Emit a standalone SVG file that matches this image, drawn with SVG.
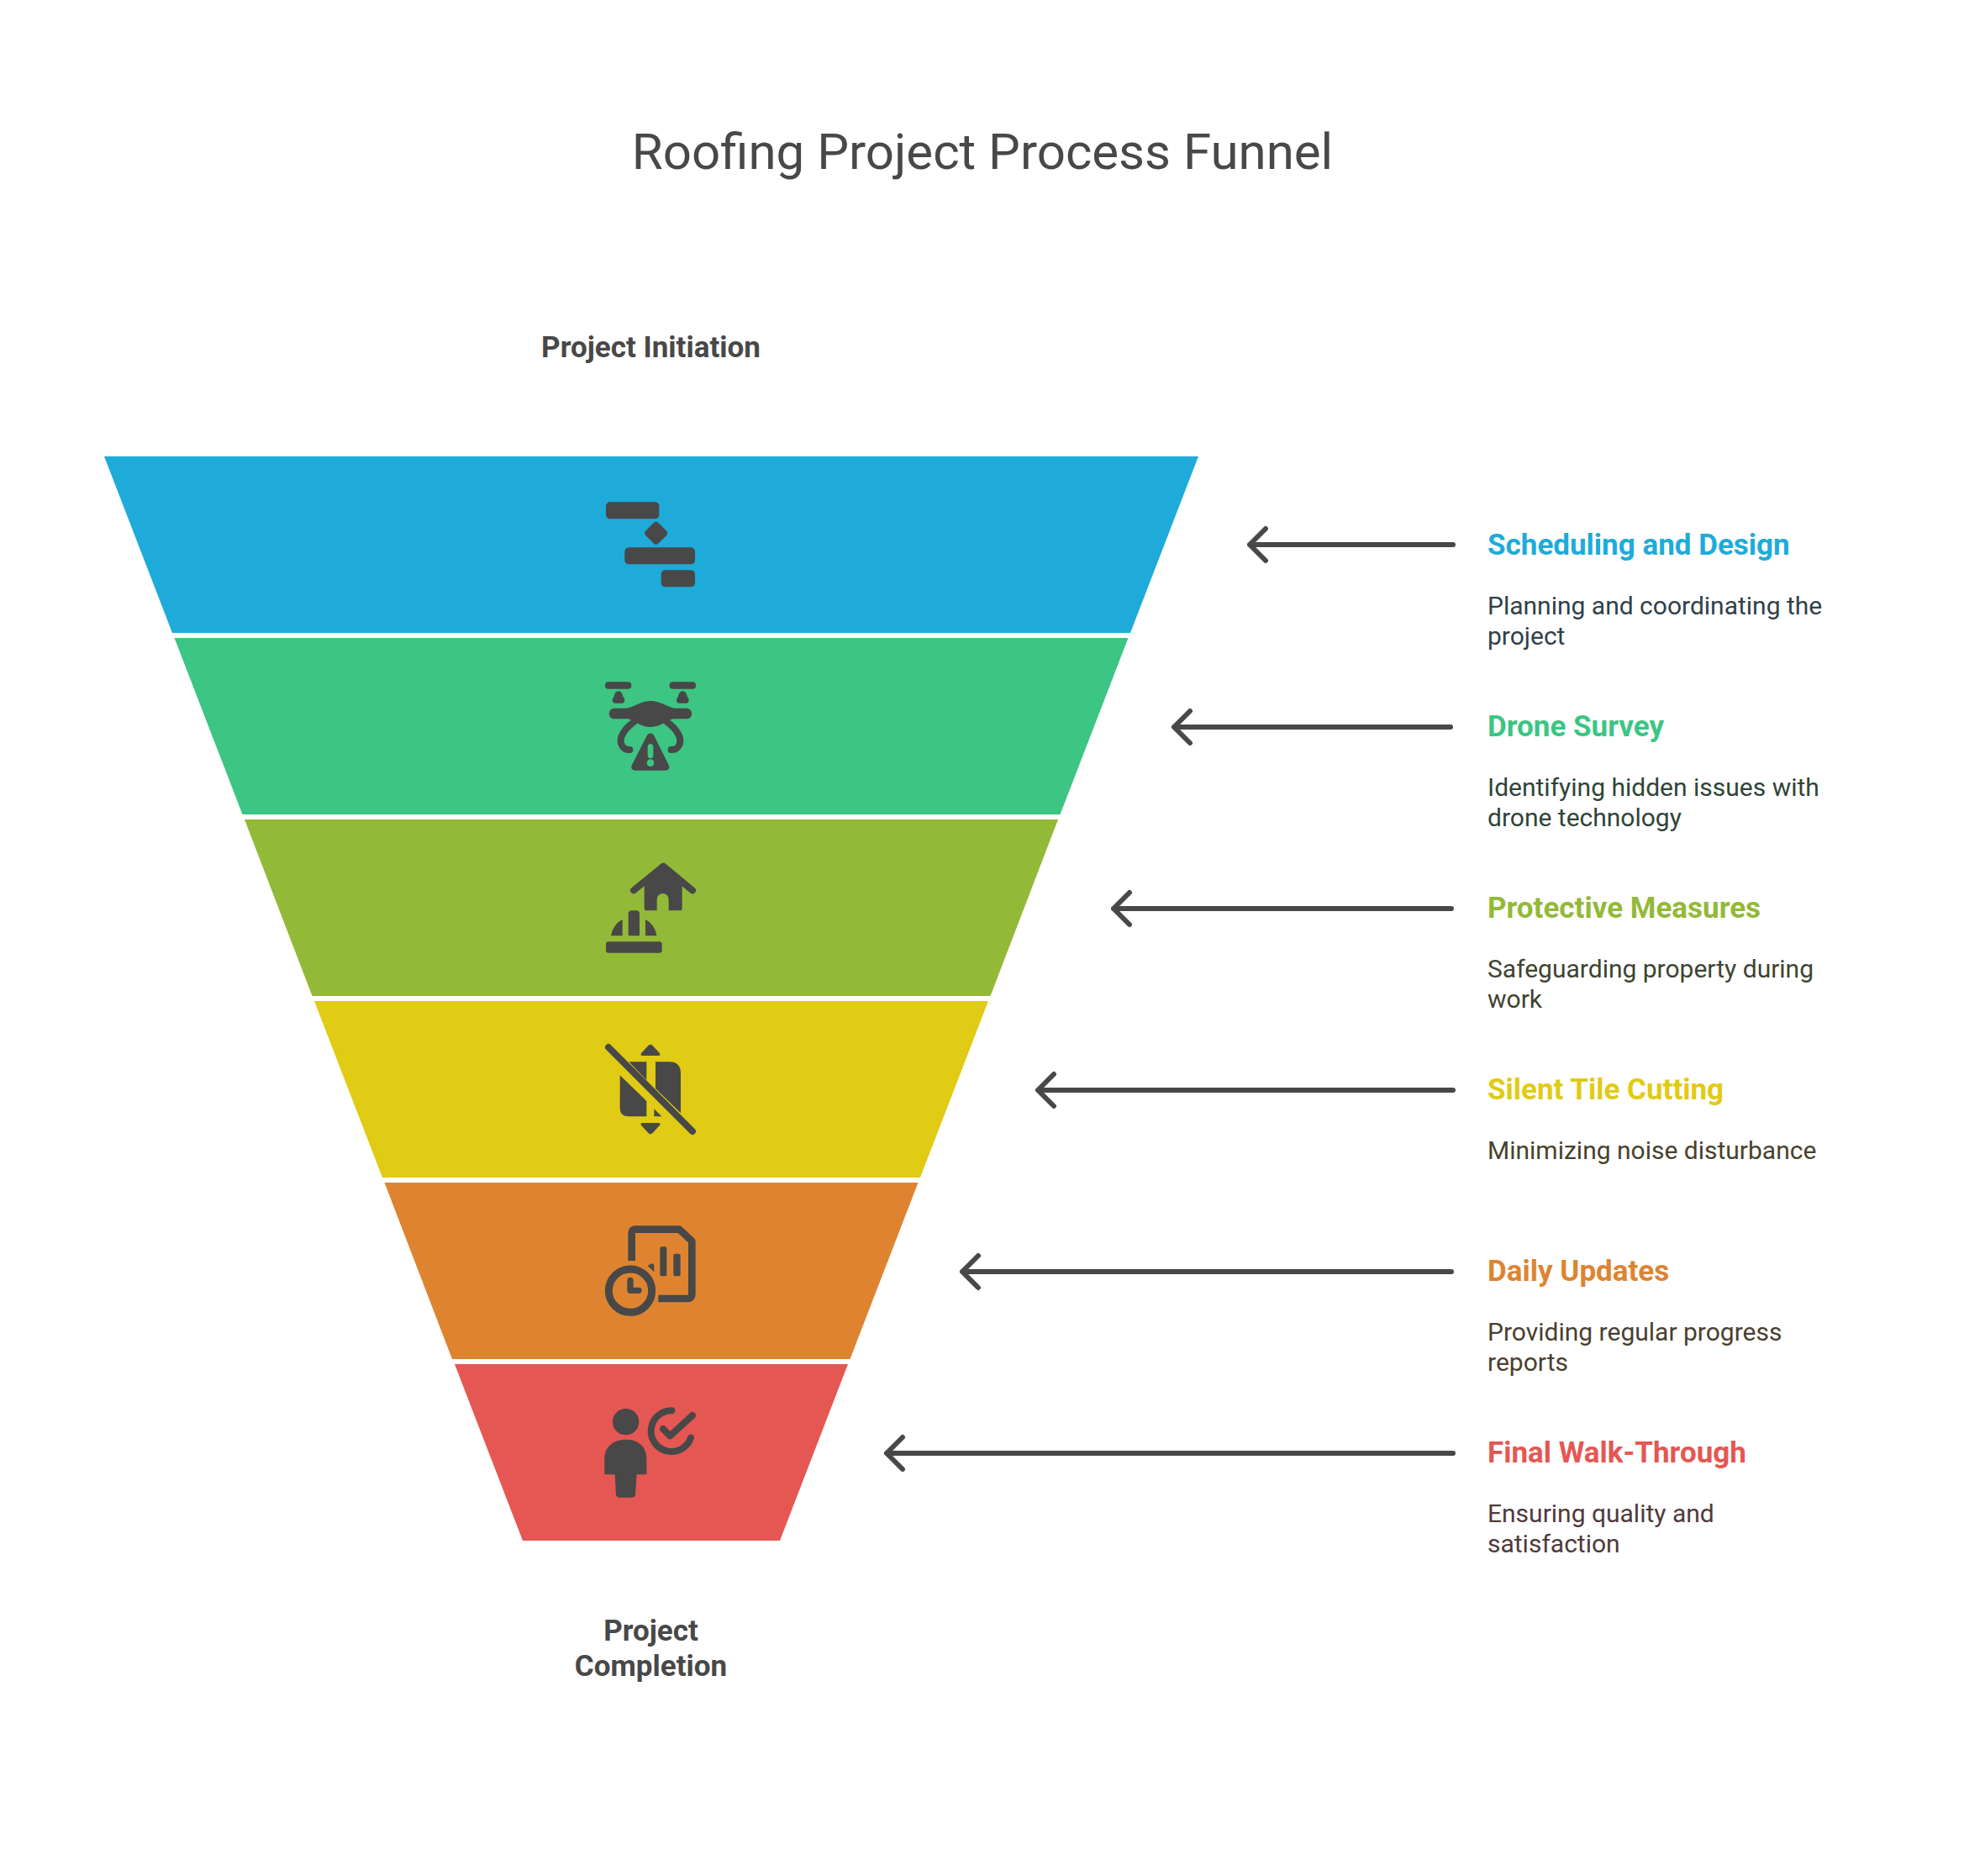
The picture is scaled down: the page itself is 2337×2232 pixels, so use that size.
<svg xmlns="http://www.w3.org/2000/svg" width="2337" height="2232" viewBox="0 0 2337 2232">
<style>
text{font-family:Roboto,"Liberation Sans",sans-serif}
.t{font-size:60px;fill:#484848;text-anchor:middle}
.c{font-size:35px;font-weight:700;fill:#484848;text-anchor:middle}
.h{font-size:35px;font-weight:700}
.d{font-size:30px}
.i{fill:#484848;stroke:none}
.s{fill:none;stroke:#484848;stroke-linecap:round;stroke-linejoin:round}
.a{fill:none;stroke:#484848;stroke-width:6;stroke-linecap:round;stroke-linejoin:round}
</style>
<rect width="2337" height="2232" fill="#fff"/>
<text class="t" x="1169" y="200.500">Roofing Project Process Funnel</text>
<text class="c" x="774.500" y="425">Project Initiation</text>
<text class="c" x="774.500" y="1952">Project</text>
<text class="c" x="774.500" y="1994">Completion</text>
<g id="connectors">
<path class="a" d="M1729 648H1487M1506 629L1487 648L1506 667"/>
<path class="a" d="M1726 865H1397M1416 846L1397 865L1416 884"/>
<path class="a" d="M1727 1081H1325M1344 1062L1325 1081L1344 1100"/>
<path class="a" d="M1729 1297H1235M1254 1278L1235 1297L1254 1316"/>
<path class="a" d="M1727 1513H1145M1164 1494L1145 1513L1164 1532"/>
<path class="a" d="M1729 1729H1055M1074 1710L1055 1729L1074 1748"/>
</g>
<g id="node-scheduling">
<polygon fill="#1eabda" points="124,543 1426,543 1345,753 205,753"/>
<g transform="translate(680 570) scale(.3333)" class="i">
<rect x="123" y="82" width="190" height="60" rx="14"/>
<rect x="270" y="161" width="64" height="64" rx="12" transform="rotate(45 302 193)"/>
<rect x="190" y="244" width="251" height="60" rx="14"/>
<rect x="320" y="325" width="121" height="60" rx="14"/>
</g>
<text class="h" fill="#1eabda" x="1770" y="659.500">Scheduling and Design</text>
<text class="d" fill="#2f4149" x="1770" y="731">Planning and coordinating the</text>
<text class="d" fill="#2f4149" x="1770" y="767">project</text>
</g>
<g id="node-drone">
<polygon fill="#3cc583" points="207.500,759 1342.500,759 1261.500,969 288.500,969"/>
<g transform="translate(680 570) scale(.3333)">
<g class="i">
<rect x="120" y="724" width="94" height="25" rx="12"/>
<rect x="350" y="724" width="94" height="25" rx="12"/>
<path d="M168 757C178 757 183 768 184 776C192 782 193 800 180 800H156C143 800 144 782 152 776C153 768 158 757 168 757Z"/>
<path d="M397 757C407 757 412 768 413 776C421 782 422 800 409 800H385C372 800 373 782 381 776C382 768 387 757 397 757Z"/>
<path d="M153 818H195C225 814 245 792 282 792C320 792 340 814 370 818H411C436 818 436 856 411 856H365C345 858 320 885 282 885C245 885 220 858 200 856H153C128 856 128 818 153 818Z"/>
<path fill-rule="evenodd" d="M270 914C276 905 288 905 294 914L347 1020C353 1032 347 1040 335 1040H228C216 1040 210 1032 216 1020ZM272 956V988C272 1000 292 1000 292 988V956C292 941 272 941 272 956ZM282 1000A13 13 0 1 0 282 1026A13 13 0 1 0 282 1000Z"/>
</g>
<path class="s" stroke-width="24" d="M208 966C175 968 168 930 186 905C195 890 208 878 222 868M356 966C389 968 396 930 378 905C369 890 356 878 342 868"/>
</g>
<text class="h" fill="#3cc583" x="1770" y="875.500">Drone Survey</text>
<text class="d" fill="#2f4438" x="1770" y="947">Identifying hidden issues with</text>
<text class="d" fill="#2f4438" x="1770" y="983">drone technology</text>
</g>
<g id="node-protective">
<polygon fill="#93b938" points="291,975 1259,975 1178.500,1185 371.500,1185"/>
<g transform="translate(680 990) scale(.3333)">
<path class="s" stroke-width="24" d="M222 208L328 122L432 208"/>
<g class="i">
<path d="M260 190L328 130L395 190V272Q395 280 387 280H347V240A21 21 0 0 0 305 240V280H268Q260 280 260 272Z"/>
<rect x="123" y="391" width="200" height="40" rx="9"/>
<path d="M203 370V292Q203 280 215 280H231Q243 280 243 292V370Z"/>
<path d="M182 312V370H141C146 342 162 322 182 312Z"/>
<path d="M264 312V370H304C300 342 284 322 264 312Z"/>
</g>
</g>
<text class="h" fill="#93b938" x="1770" y="1091.500">Protective Measures</text>
<text class="d" fill="#3d4430" x="1770" y="1163">Safeguarding property during</text>
<text class="d" fill="#3d4430" x="1770" y="1199">work</text>
</g>
<g id="node-silent">
<polygon fill="#e0cb15" points="374,1191 1176,1191 1095,1401 455,1401"/>
<g transform="translate(680 990) scale(.3333)">
<path class="s" stroke-width="24" d="M132 768L432 1068"/>
<g class="i">
<path d="M250 788L275 761Q282 755 289 761L314 788Q320 798 310 798H254Q244 798 250 788Z"/>
<path d="M250 1048L275 1075Q282 1081 289 1075L314 1048Q320 1038 310 1038H254Q244 1038 250 1048Z"/>
<path d="M300 820H350Q390 820 390 860V1003L300 915Z"/>
<path d="M205 820H268V885Z"/>
<path d="M173 868L268 960V1015H205Q173 1015 173 985Z"/>
<path d="M295 988L322 1015H295Z"/>
</g>
</g>
<text class="h" fill="#e0cb15" x="1770" y="1307.500">Silent Tile Cutting</text>
<text class="d" fill="#46432a" x="1770" y="1379">Minimizing noise disturbance</text>
</g>
<g id="node-daily">
<polygon fill="#de8431" points="457.500,1407 1092.500,1407 1011.500,1617 538,1617"/>
<g transform="translate(680 1420) scale(.3333)">
<path class="s" stroke-width="26" style="stroke-linecap:butt" d="M215 240V140Q215 128 228 128H385L430 170V360Q430 375 415 375H310"/>
<circle class="s" stroke-width="27" cx="210" cy="347" r="77"/>
<path class="s" stroke-width="22" d="M210 310V346H240"/>
<g class="i">
<rect x="316" y="190" width="24" height="105" rx="6"/>
<rect x="364" y="215" width="25" height="80" rx="6"/>
<path d="M272 258L285 250Q295 250 295 260V280Z"/>
</g>
</g>
<text class="h" fill="#de8431" x="1770" y="1523.500">Daily Updates</text>
<text class="d" fill="#4a3f30" x="1770" y="1595">Providing regular progress</text>
<text class="d" fill="#4a3f30" x="1770" y="1631">reports</text>
</g>
<g id="node-final">
<polygon fill="#e55753" points="541,1623 1009,1623 928,1833 622,1833"/>
<g transform="translate(680 1420) scale(.3333)">
<g class="i">
<circle cx="194" cy="815" r="47"/>
<path d="M118 1003V945C118 905 150 878 194 878C240 878 268 905 268 945V1003H233L228 1075Q227 1085 215 1085H172Q160 1085 159 1075L155 1003Z"/>
</g>
<path class="s" stroke-width="24" d="M358 775A73 73 0 1 0 426 872M327 840L352 865L432 792"/>
</g>
<text class="h" fill="#e55753" x="1770" y="1739.500">Final Walk-Through</text>
<text class="d" fill="#503a3c" x="1770" y="1811">Ensuring quality and</text>
<text class="d" fill="#503a3c" x="1770" y="1847">satisfaction</text>
</g>
</svg>
